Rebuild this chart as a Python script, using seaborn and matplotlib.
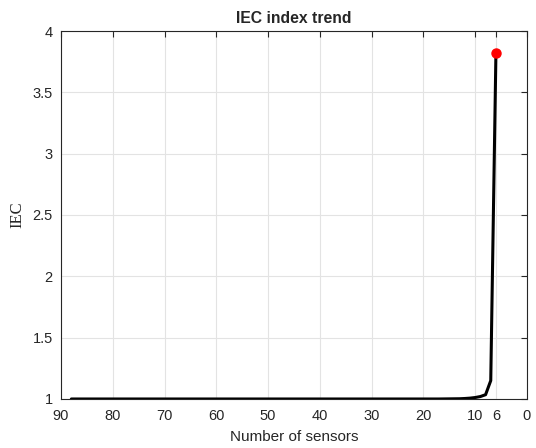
import matplotlib
matplotlib.use("Agg")
import matplotlib.pyplot as plt
import seaborn as sns
import pandas as pd

# Number of sensors retained, from the full set down to the final selection
sensors = [88, 87, 86, 85, 84, 83, 82, 81, 80, 79, 78, 77, 76, 75, 74, 73, 72, 71,
           70, 69, 68, 67, 66, 65, 64, 63, 62, 61, 60, 59, 58, 57, 56, 55, 54, 53,
           52, 51, 50, 49, 48, 47, 46, 45, 44, 43, 42, 41, 40, 39, 38, 37, 36, 35,
           34, 33, 32, 31, 30, 29, 28, 27, 26, 25, 24, 23, 22, 21, 20, 19, 18, 17,
           16, 15, 14, 13, 12, 11, 10, 9, 8, 7, 6]
# IEC index for each sensor count (flat at 1 until the last few removals)
iec_flat = [1.0] * 72
iec_tail = [1.0005, 1.001, 1.0015, 1.002, 1.004, 1.007, 1.012, 1.02, 1.035,
            1.15, 3.82]
iec = iec_flat + iec_tail
xticks = [90, 80, 70, 60, 50, 40, 30, 20, 10, 6, 0]
yticks = [1, 1.5, 2, 2.5, 3, 3.5, 4]
ytick_labels = ["1", "1.5", "2", "2.5", "3", "3.5", "4"]

df = pd.DataFrame({"sensors": sensors, "IEC": iec})

sns.set_style("white")
plt.rcParams["font.family"] = ["Liberation Sans", "DejaVu Sans"]

fig = plt.figure(figsize=(5.36, 4.48), dpi=100)
ax = fig.add_axes([0.1138, 0.1094, 0.8694, 0.8214])

sns.lineplot(data=df, x="sensors", y="IEC", color="black", linewidth=2.2,
             ax=ax, sort=False, estimator=None)
ax.plot(sensors[-1], iec[-1], "o", color="red", markersize=6.5, zorder=5)

ax.set_xlim(90, 0)
ax.set_ylim(1, 4)
ax.set_xticks(xticks)
ax.set_yticks(yticks)
ax.set_xticklabels([str(t) for t in xticks])
ax.set_yticklabels(ytick_labels)

ax.grid(True, color="#e3e3e3", linewidth=0.8)
ax.set_axisbelow(True)
for s in ax.spines.values():
    s.set_visible(True)
    s.set_color("#262626")
    s.set_linewidth(0.8)
ax.tick_params(direction="in", top=True, right=True, length=4, width=0.8,
               colors="#262626", labelsize=10.5, labelcolor="#262626")
ax.tick_params(axis="x", pad=7)
ax.tick_params(axis="y", pad=6)

ax.set_title("IEC index trend", fontsize=11.3, fontweight="bold", pad=6)
ax.set_xlabel("Number of sensors", fontsize=11, labelpad=5, color="#262626")
ax.set_ylabel("IEC", fontsize=12, family=["Liberation Serif"], labelpad=5,
              color="#262626")

fig.savefig("out.png", dpi=100)
